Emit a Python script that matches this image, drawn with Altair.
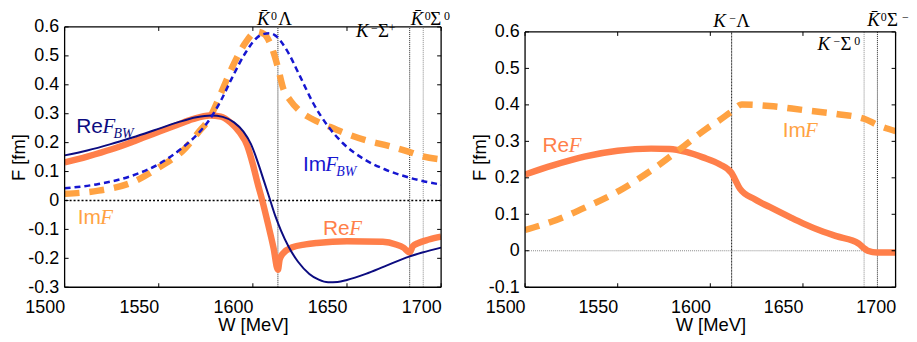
import altair as alt
import pandas as pd

# ---------------- data ----------------
X_TICKS = [1500, 1550, 1600, 1650, 1700]
Y_TICKS_L = [-0.3, -0.2, -0.1, 0.0, 0.1, 0.2, 0.3, 0.4, 0.5, 0.6]
Y_TICKS_R = [-0.1, 0.0, 0.1, 0.2, 0.3, 0.4, 0.5, 0.6]
X_RANGE = [1500, 1700]
Y_RANGE_L = [-0.3, 0.6]
Y_RANGE_R = [-0.1, 0.6]

# left panel
W_REF_BW = [1500, 1512, 1524, 1536, 1549, 1560, 1570, 1578, 1584, 1590, 1595, 1599, 1603, 1606,
            1609, 1612, 1615, 1619, 1624, 1630, 1635, 1640, 1645, 1650, 1660, 1670, 1683, 1690, 1700]
REF_BW = [0.156, 0.173, 0.194, 0.218, 0.246, 0.270, 0.288, 0.294, 0.289, 0.270, 0.238, 0.195, 0.125, 0.065,
          0.005, -0.055, -0.105, -0.160, -0.212, -0.254, -0.274, -0.283, -0.282, -0.275, -0.254, -0.228,
          -0.194, -0.180, -0.163]

W_IMF_BW = [1500, 1518, 1536, 1550, 1564, 1571, 1577, 1583, 1589, 1596, 1602, 1606, 1609, 1612, 1618,
            1625, 1632, 1640, 1648, 1659, 1670, 1682, 1689, 1700]
IMF_BW = [0.042, 0.057, 0.086, 0.126, 0.190, 0.232, 0.280, 0.345, 0.425, 0.510, 0.562, 0.576, 0.578,
          0.570, 0.520, 0.430, 0.337, 0.256, 0.197, 0.143, 0.108, 0.081, 0.069, 0.055]

W_IMF_L = [1500, 1518, 1536, 1550, 1564, 1571, 1577, 1583, 1589, 1596, 1602, 1606, 1610, 1613.3, 1616,
           1620, 1625, 1632, 1639, 1650, 1660, 1670, 1683, 1690, 1700]
IMF_L = [0.023, 0.034, 0.063, 0.114, 0.180, 0.235, 0.285, 0.370, 0.460, 0.545, 0.584, 0.575, 0.530,
         0.460, 0.390, 0.345, 0.309, 0.280, 0.260, 0.230, 0.208, 0.192, 0.168, 0.153, 0.142]

W_REF_L = [1500, 1512, 1525, 1537, 1549, 1560, 1568, 1577, 1583, 1588, 1593, 1597, 1600, 1602.5, 1605,
           1608, 1611, 1613.3, 1614.2, 1616, 1621, 1628, 1634, 1650, 1669, 1676, 1680, 1683.3, 1685,
           1688, 1693.5, 1700]
REF_L = [0.132, 0.152, 0.177, 0.205, 0.235, 0.262, 0.281, 0.294, 0.290, 0.270, 0.235, 0.190, 0.125,
         0.060, 0.000, -0.080, -0.165, -0.240, -0.205, -0.183, -0.162, -0.152, -0.147, -0.141, -0.143,
         -0.152, -0.163, -0.180, -0.158, -0.147, -0.135, -0.125]

# right panel
W_REF_R = [1500, 1515, 1532, 1550, 1568, 1578, 1587, 1596, 1605, 1611.5, 1613.2, 1616, 1624, 1632,
           1643, 1650, 1661, 1668, 1680, 1683, 1685, 1690, 1700]
REF_R = [0.209, 0.234, 0.258, 0.274, 0.280, 0.279, 0.271, 0.256, 0.237, 0.213, 0.197, 0.170, 0.141,
         0.120, 0.092, 0.075, 0.052, 0.040, 0.020, 0.007, 0.000, -0.005, -0.005]

W_IMF_R = [1500, 1515, 1533, 1551, 1568, 1586, 1598, 1605, 1611.5, 1617, 1632, 1650, 1668, 1683,
           1691, 1700]
IMF_R = [0.057, 0.081, 0.120, 0.165, 0.220, 0.288, 0.335, 0.358, 0.382, 0.401, 0.397, 0.386, 0.375,
         0.362, 0.343, 0.328]

# thresholds
THR_L = [1613.3, 1683.3, 1690.5]
THR_R = [1611.5, 1683.0, 1690.2]

# curve labels: prefix, italic, subscript, W, F
CURVE_LABELS_L = [("Re", "F", "BW", 1506.2, 0.234), ("Im", "F", "BW", 1626.6, 0.102),
                  ("Im", "F", "", 1507.0, -0.083), ("Re", "F", "", 1637.2, -0.121)]
CURVE_LABELS_R = [("Re", "F", "", 1509.4, 0.270), ("Im", "F", "", 1639.1, 0.311)]

# threshold labels: K, sup1, base, sup2, W, F
THR_LABELS_L = [("K\u0304", "0", "\u039b", "", 1602.2, 0.6069),
                ("K", "\u2212", "\u03a3", "+", 1654.8, 0.5657),
                ("K\u0304", "0", "\u03a3", "0", 1683.9, 0.6069)]
THR_LABELS_R = [("K", "\u2212", "\u039b", "", 1601.6, 0.6136),
                ("K", "\u2212", "\u03a3", "0", 1657.9, 0.550),
                ("K\u0304", "0", "\u03a3", "\u2212", 1684.7, 0.6164)]

# ---------------- styling ----------------
NAVY = "#0c0c80"
BLUE = "#1616d0"
CORAL = "#ff7f4a"
ORANGE = "#ffa242"
SANS = "Liberation Sans"
SERIF = "Liberation Serif"

LABEL_EXPR = ("datum.value == 0 ? '0' : (datum.value < 0 ? '-' + format(-datum.value, '.1f') "
              ": format(datum.value, '.1f'))")


def panel(width, height, yframe, ytop_extra, yticks, curves, thr, thr_styles, zero_style, clabels,
          clabel_colors, tlabels, tl_offsets):
    ydom = [yframe[0], yframe[1] + ytop_extra]
    xs = alt.Scale(domain=X_RANGE, nice=False, zero=False)
    ys = alt.Scale(domain=ydom, nice=False, zero=False)
    xax = alt.Axis(values=X_TICKS, title="W [MeV]", format="d", labelAlign="right", labelBaseline="top",
                   labelPadding=11, titlePadding=0, grid=False, ticks=False, domain=False)
    yax = alt.Axis(values=yticks, title="F [fm]", labelExpr=LABEL_EXPR, labelPadding=6,
                   labelBaseline="middle", titlePadding=-1, grid=False, ticks=False, domain=False)

    def X(field="W"):
        return alt.X(f"{field}:Q", scale=xs, axis=xax, title="W [MeV]")

    def Y(field="F"):
        return alt.Y(f"{field}:Q", scale=ys, axis=yax, title="F [fm]")

    tick_w = 4.0 * (X_RANGE[1] - X_RANGE[0]) / width
    tick_f = 4.0 * (ydom[1] - ydom[0]) / height

    layers = []
    # zero line
    layers.append(alt.Chart(pd.DataFrame({"F": [0.0]})).mark_rule(**zero_style).encode(y=Y()))
    # thresholds
    for w, st in zip(thr, thr_styles):
        layers.append(alt.Chart(pd.DataFrame({"W": [w], "F": [yframe[0]], "F2": [yframe[1]]}))
                      .mark_rule(**st).encode(x=X(), y=Y(), y2=alt.Y2("F2:Q")))
    # curves
    for w, v, st in curves:
        layers.append(alt.Chart(pd.DataFrame({"W": w, "F": v}))
                      .mark_line(clip=True, interpolate="monotone", strokeCap="butt", **st)
                      .encode(x=X(), y=Y()))
    # frame
    fr = dict(color="black", strokeWidth=1.3)
    layers.append(alt.Chart(pd.DataFrame({"W": [X_RANGE[0]] * 2, "W2": [X_RANGE[1]] * 2, "F": yframe}))
                  .mark_rule(**fr).encode(x=X(), x2=alt.X2("W2:Q"), y=Y()))
    layers.append(alt.Chart(pd.DataFrame({"W": X_RANGE, "F": [yframe[0]] * 2, "F2": [yframe[1]] * 2}))
                  .mark_rule(**fr).encode(x=X(), y=Y(), y2=alt.Y2("F2:Q")))
    # inward ticks on all four sides
    tick = dict(color="black", strokeWidth=1)
    xt_b = pd.DataFrame({"W": X_TICKS, "F": [yframe[0]] * 5, "F2": [yframe[0] + tick_f] * 5})
    xt_t = pd.DataFrame({"W": X_TICKS, "F": [yframe[1]] * 5, "F2": [yframe[1] - tick_f] * 5})
    yt_l = pd.DataFrame({"F": yticks, "W": [X_RANGE[0]] * len(yticks), "W2": [X_RANGE[0] + tick_w] * len(yticks)})
    yt_r = pd.DataFrame({"F": yticks, "W": [X_RANGE[1]] * len(yticks), "W2": [X_RANGE[1] - tick_w] * len(yticks)})
    for df in (xt_b, xt_t):
        layers.append(alt.Chart(df).mark_rule(**tick).encode(x=X(), y=Y(), y2=alt.Y2("F2:Q")))
    for df in (yt_l, yt_r):
        layers.append(alt.Chart(df).mark_rule(**tick).encode(y=Y(), x=X(), x2=alt.X2("W2:Q")))
    # curve labels
    for (pre, it, sub, w, f), col in zip(clabels, clabel_colors):
        df = pd.DataFrame({"W": [w], "F": [f]})
        pw = 26.5 if pre == "Re" else 22.5
        layers.append(alt.Chart(df).mark_text(text=pre, font=SANS, fontSize=21, align="left",
                                              baseline="alphabetic", color=col).encode(x=X(), y=Y()))
        layers.append(alt.Chart(df).mark_text(text=it, font=SERIF, fontSize=21, fontStyle="italic",
                                              align="left", baseline="alphabetic", dx=pw, color=col)
                      .encode(x=X(), y=Y()))
        if sub:
            layers.append(alt.Chart(df).mark_text(text=sub, font=SERIF, fontSize=14, fontStyle="italic",
                                                  align="left", baseline="alphabetic", dx=pw + 11, dy=5,
                                                  color=col).encode(x=X(), y=Y()))
    # threshold labels
    for (k, s1, base, s2, w, f), (d1, d2, d3) in zip(tlabels, tl_offsets):
        df = pd.DataFrame({"W": [w], "F": [f]})
        common = dict(font=SERIF, align="left", baseline="alphabetic", color="black")
        layers.append(alt.Chart(df).mark_text(text=k, fontSize=19, fontStyle="italic", **common)
                      .encode(x=X(), y=Y()))
        layers.append(alt.Chart(df).mark_text(text=s1, fontSize=12, dx=d1, dy=-5, **common)
                      .encode(x=X(), y=Y()))
        layers.append(alt.Chart(df).mark_text(text=base, fontSize=19, dx=d2, **common)
                      .encode(x=X(), y=Y()))
        if s2:
            layers.append(alt.Chart(df).mark_text(text=s2, fontSize=12, dx=d3, dy=-5, **common)
                          .encode(x=X(), y=Y()))
    return alt.layer(*layers).properties(width=width, height=height)


dot_dark = dict(color="#222222", strokeWidth=1, strokeDash=[1, 1])
dot_gray = dict(color="#888888", strokeWidth=1, strokeDash=[1, 1])

left = panel(
    379, 262, Y_RANGE_L, 0.0, Y_TICKS_L,
    [
        (W_IMF_L, IMF_L, dict(color=ORANGE, strokeWidth=6.5, strokeDash=[15, 10])),
        (W_REF_L, REF_L, dict(color=CORAL, strokeWidth=6.5)),
        (W_REF_BW, REF_BW, dict(color=NAVY, strokeWidth=2)),
        (W_IMF_BW, IMF_BW, dict(color=BLUE, strokeWidth=2.5, strokeDash=[6, 4])),
    ],
    THR_L, [dot_dark, dot_dark, dot_gray],
    dict(color="black", strokeWidth=1.5, strokeDash=[2, 2]),
    CURVE_LABELS_L, [NAVY, BLUE, ORANGE, CORAL],
    THR_LABELS_L, [(14, 21.5, 0), (15, 22, 33), (14, 19.5, 33.5)],
)

# right frame sits 5 px lower than the left one: extend the y domain above 0.6 by 5 px
right = panel(
    373, 262, Y_RANGE_R, 5 * 0.7 / 257, Y_TICKS_R,
    [
        (W_REF_R, REF_R, dict(color=CORAL, strokeWidth=6.5)),
        (W_IMF_R, IMF_R, dict(color=ORANGE, strokeWidth=6.5, strokeDash=[15, 10])),
    ],
    THR_R, [dict(color="#111111", strokeWidth=1, strokeDash=[1, 0.5]), dot_gray, dot_dark],
    dict(color="#888888", strokeWidth=1, strokeDash=[1, 1]),
    CURVE_LABELS_R, [CORAL, ORANGE],
    THR_LABELS_R, [(16, 23, 0), (16, 23, 37), (13.5, 20, 35)],
)

chart = (
    alt.hconcat(left, right, spacing=19.5)
    .properties(padding={"left": 1, "top": 0, "right": 0, "bottom": 0})
    .configure_view(strokeWidth=0)
    .configure_axis(labelFont=SANS, labelFontSize=18, labelColor="black", titleFont=SANS,
                    titleFontSize=18.5, titleFontWeight="normal", titleColor="black")
)

chart.save("out.html", embed_options={"renderer": "svg", "actions": False})
